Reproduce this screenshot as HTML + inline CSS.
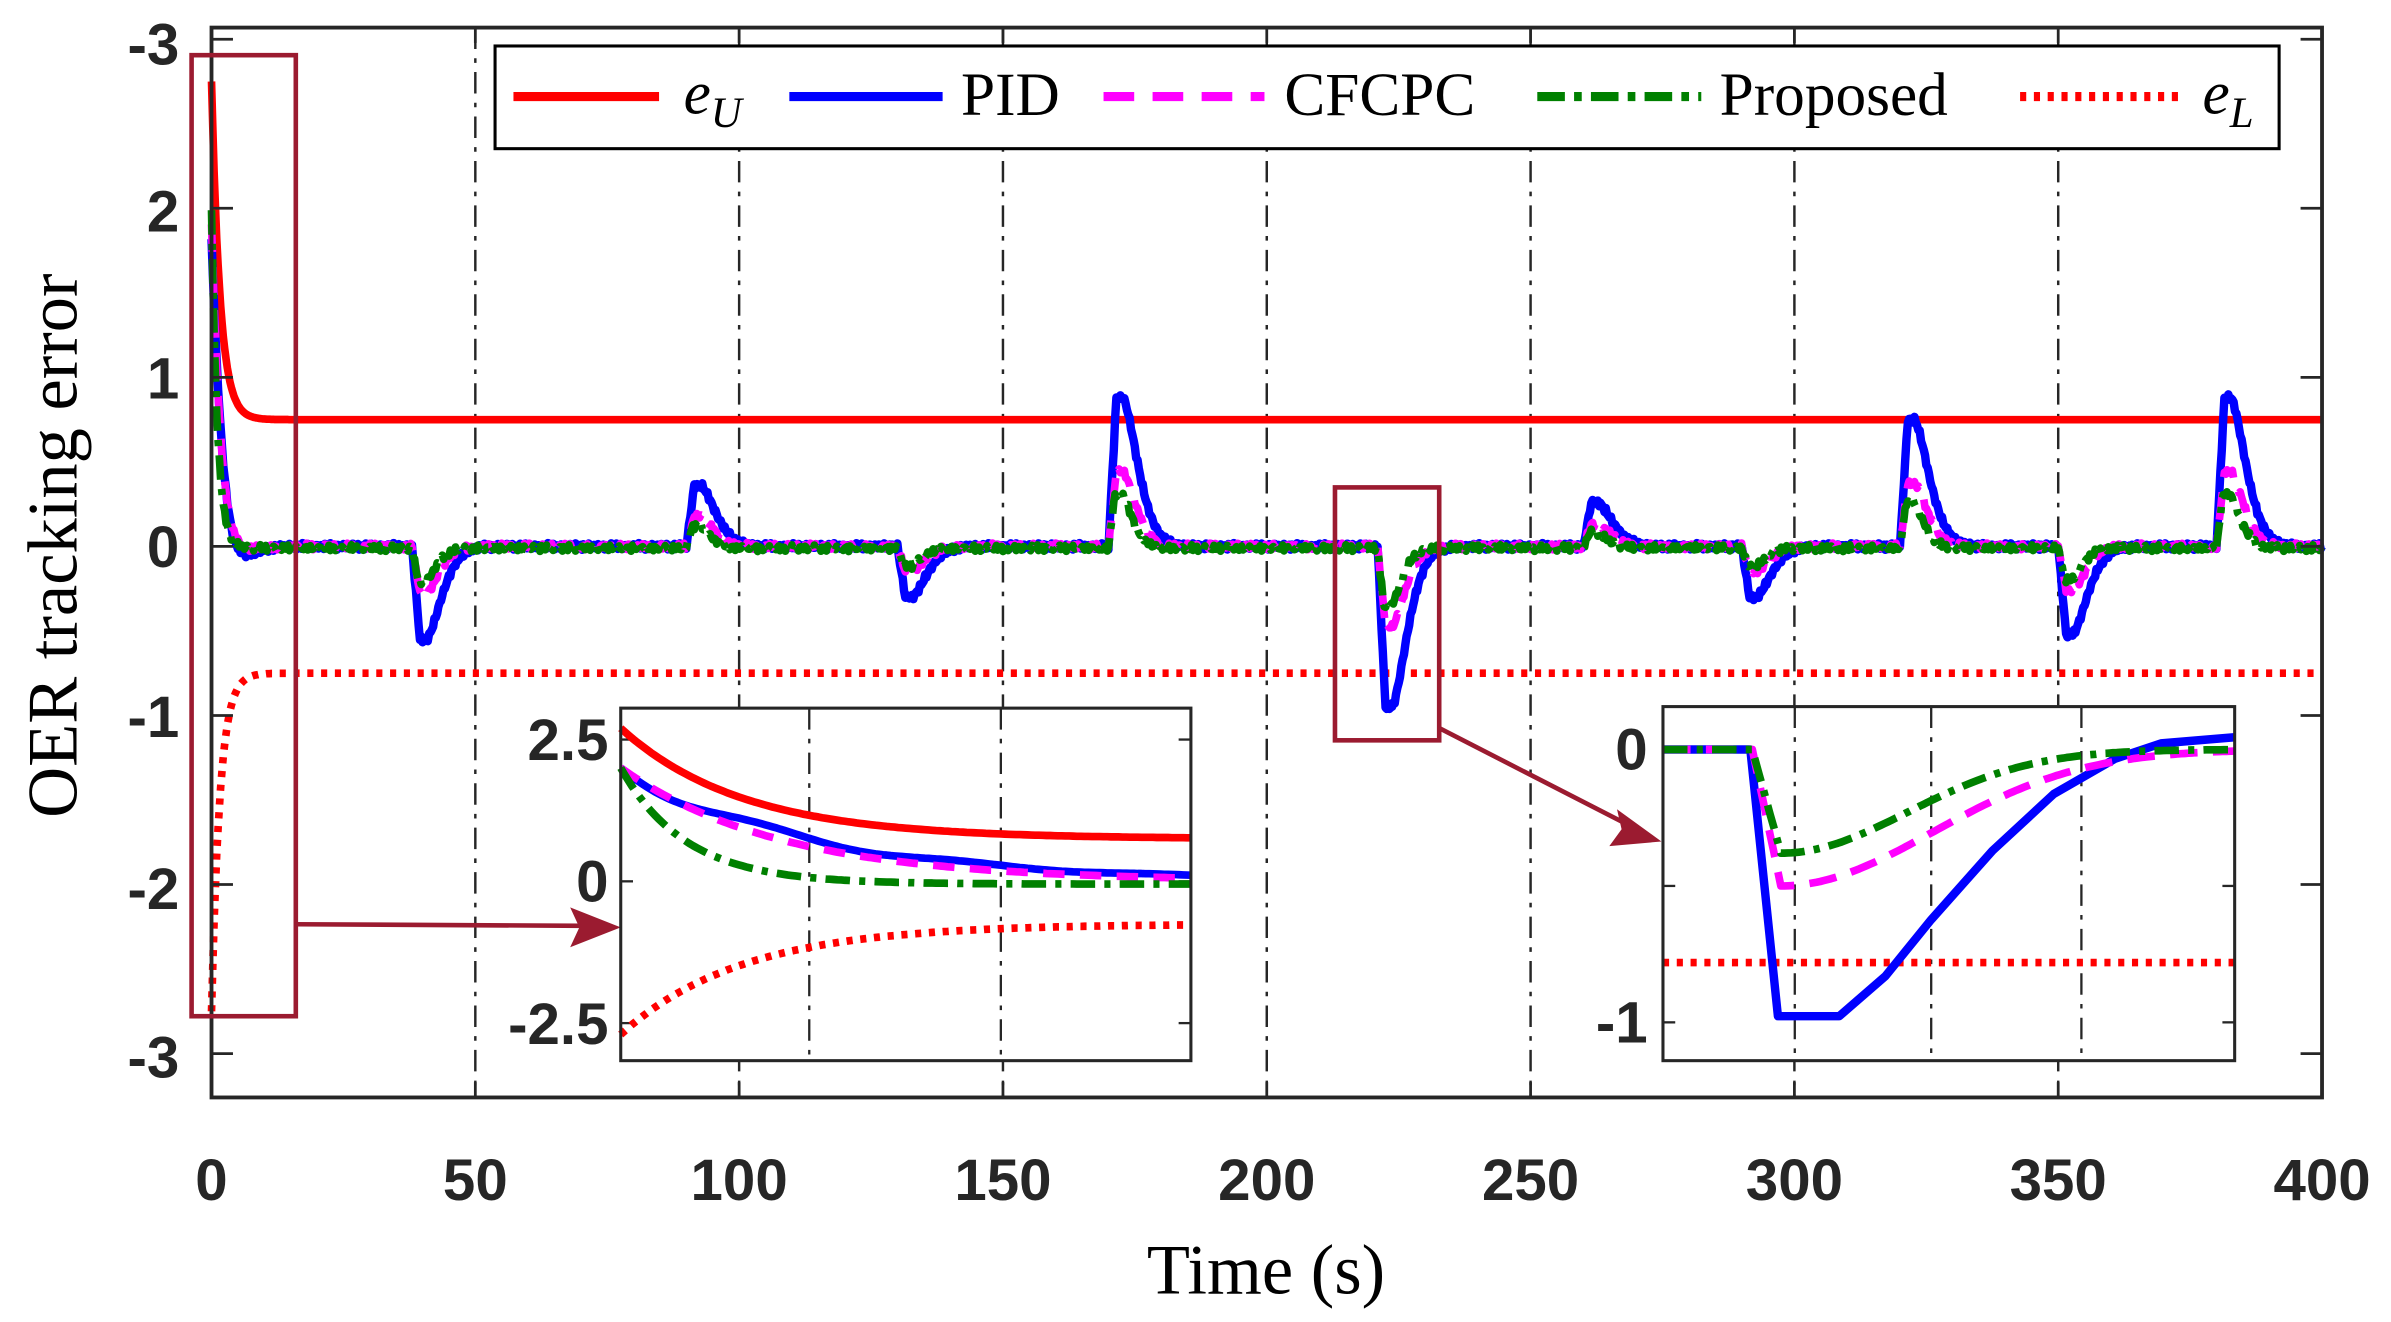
<!DOCTYPE html>
<html><head><meta charset="utf-8"><style>
html,body{margin:0;padding:0;background:#fff;}
svg{display:block;}
.tl{font-family:"Liberation Sans",sans-serif;font-weight:bold;font-size:38px;fill:#262626;}
.sf{font-family:"Liberation Serif",serif;fill:#000;}
</style></head><body>
<svg id="s" width="2391" height="1322" viewBox="0 0 1560 862.5" preserveAspectRatio="none" xmlns="http://www.w3.org/2000/svg">
<rect width="1560" height="862.5" fill="#fff"/>
<g id="grid" stroke="#262626" stroke-width="1.6" stroke-dasharray="14,6,3,6"></g>
<g id="series" fill="none" stroke-linejoin="round"></g>
<rect x="138" y="18" width="1377" height="698" fill="none" stroke="#262626" stroke-width="2.5"/>
<g id="ticks" stroke="#262626" stroke-width="1.8"></g>
<g class="tl" text-anchor="end">
<text x="117" y="42">-3</text><text x="117" y="151">2</text><text x="117" y="260">1</text><text x="117" y="370">0</text>
<text x="117" y="481">-1</text><text x="117" y="593">-2</text><text x="117" y="703">-3</text>
</g>
<g class="tl" text-anchor="middle" id="xl"></g>
<text class="sf" x="826" y="844" font-size="46" text-anchor="middle">Time (s)</text>
<text class="sf" font-size="46" text-anchor="middle" transform="translate(50,356) rotate(-90)">OER tracking error</text>
<rect x="125" y="36" width="68" height="627" fill="none" stroke="#9b1b30" stroke-width="3"/>
<rect x="871" y="318" width="68" height="165" fill="none" stroke="#9b1b30" stroke-width="3"/>
<line x1="193" y1="603" x2="380" y2="604" stroke="#9b1b30" stroke-width="3"/>
<polygon points="405,605 372,592 378,605 372,618" fill="#9b1b30"/>
<line x1="939" y1="475" x2="1060" y2="537" stroke="#9b1b30" stroke-width="3"/>
<polygon points="1084,549 1055,528 1058,541 1050,552" fill="#9b1b30"/>
<g id="in1"></g><g id="in2"></g>
<rect x="323" y="30" width="1164" height="67" fill="#fff" stroke="#000" stroke-width="2"/>
<line x1="335" y1="63" x2="430" y2="63" stroke="#f00" stroke-width="6"/>
<text class="sf" x="446" y="74" font-size="40" font-style="italic">e<tspan font-size="28" dy="9">U</tspan></text>
<line x1="515" y1="63" x2="615" y2="63" stroke="#00f" stroke-width="6"/>
<text class="sf" x="627" y="75" font-size="40">PID</text>
<line x1="720" y1="63" x2="825" y2="63" stroke="#f0f" stroke-width="6" stroke-dasharray="20,12"/>
<text class="sf" x="838" y="75" font-size="40">CFCPC</text>
<line x1="1003" y1="63" x2="1110" y2="63" stroke="#008000" stroke-width="6" stroke-dasharray="18,6,5,6"/>
<text class="sf" x="1122" y="75" font-size="40">Proposed</text>
<line x1="1318" y1="63" x2="1425" y2="63" stroke="#f00" stroke-width="6" stroke-dasharray="4,5"/>
<text class="sf" x="1437" y="74" font-size="40" font-style="italic">e<tspan font-size="28" dy="9">L</tspan></text>
</svg>
<script>
var NS="http://www.w3.org/2000/svg";
function el(p,t,a){var e=document.createElementNS(NS,t);for(var k in a)e.setAttribute(k,a[k]);p.appendChild(e);return e;}
var X=function(t){return 138+t*3.4425;}, Y=function(v){return 356.5-110.3*v;};
var g=document.getElementById('grid'),tk=document.getElementById('ticks'),xl=document.getElementById('xl');
for(var i=0;i<=8;i++){var x=X(i*50);
 if(i>0&&i<8)el(g,'line',{x1:x,y1:18,x2:x,y2:716});
 el(tk,'line',{x1:x,y1:716,x2:x,y2:706});el(tk,'line',{x1:x,y1:18,x2:x,y2:28});
 var t=el(xl,'text',{x:x,y:783});t.textContent=String(i*50);}
[3,2,1,0,-1,-2,-3].forEach(function(v){var y=Y(v);el(tk,'line',{x1:138,y1:y,x2:152,y2:y});el(tk,'line',{x1:1515,y1:y,x2:1501,y2:y});});
function eU(t){return 0.75+2*Math.exp(-t/1.6);}
var ev=[[38,-0.55],[90,0.36],[130,-0.3],[170,0.88],[221,-0.95],[260,0.26],[290,-0.3],[320,0.75],[350,-0.52],[380,0.88]];
function spike(t,A,w,r){var s=0;ev.forEach(function(e){var d=t-e[0];if(d<0)return;var a=e[1]*A;
 if(d<r)s+=a*d/r;else if(d<r+1.2)s+=a;else s+=a*Math.exp(-Math.pow((d-r-1.2)/w,1.6));});return s;}
function nz(t,k){return 0.012*Math.sin(t*7.3+k)+0.008*Math.sin(t*13.1+2*k);}
function pid(t){return 1.8*Math.exp(-t/2.2)*Math.cos(t*0.32)+spike(t,1,4,1.5)+nz(t,1);}
function cf(t){return 1.9*Math.exp(-t/1.8)*Math.cos(t*0.25)+spike(t,0.5,3.5,1.5)+nz(t,2);}
function pr(t){return 2.0*Math.exp(-t/1.1)+spike(t,0.36,3,1.2)+nz(t,3)-0.01;}
function path(f,xm,ym,t0,t1,dt){var d='';for(var t=t0;t<=t1+1e-9;t+=dt)d+=(d?'L':'M')+xm(t).toFixed(1)+','+ym(f(t)).toFixed(1);return d;}
var S=document.getElementById('series');
function draw(p,d,c,dash,w){var a={d:d,stroke:c,'stroke-width':w||5,fill:'none','stroke-linejoin':'round'};if(dash)a['stroke-dasharray']=dash;el(p,'path',a);}
draw(S,path(eU,X,Y,0,400,0.25),'#f00',null,5);
draw(S,path(function(t){return -eU(t);},X,Y,0,400,0.25),'#f00','4,5',5);
draw(S,path(pid,X,Y,0,400,0.25),'#00f',null,5.5);
draw(S,path(cf,X,Y,0,400,0.25),'#f0f','18,10',5);
draw(S,path(pr,X,Y,0,400,0.25),'#008000','16,6,4,6',5);
var I1=document.getElementById('in1');
el(I1,'rect',{x:405,y:462,width:372,height:230,fill:'#fff'});
var X1=function(t){return 405+t*372/15;},Y1=function(v){return 575-37*v;};
[528,653].forEach(function(x){el(I1,'line',{x1:x,y1:462,x2:x,y2:692,stroke:'#262626','stroke-width':1.5,'stroke-dasharray':'14,6,3,6'});});
[2.5,0,-2.5].forEach(function(v){var y=Y1(v);el(I1,'line',{x1:405,y1:y,x2:413,y2:y,stroke:'#262626','stroke-width':1.5});el(I1,'line',{x1:777,y1:y,x2:769,y2:y,stroke:'#262626','stroke-width':1.5});});
var e1=function(t){return 0.75+1.95*Math.exp(-t/3.2);};
draw(I1,path(e1,X1,Y1,0,15,0.1),'#f00',null,5);
draw(I1,path(function(t){return -e1(t);},X1,Y1,0,15,0.1),'#f00','4,5',5);
draw(I1,path(function(t){return 2*Math.exp(-t/5)-0.12*Math.sin(t*1.2)*Math.exp(-t/6);},X1,Y1,0,15,0.1),'#00f',null,5);
draw(I1,path(function(t){return 2*Math.exp(-t/4.2);},X1,Y1,0,15,0.1),'#f0f','14,10',5);
draw(I1,path(function(t){return 2*Math.exp(-t/1.7)-0.05*(1-Math.exp(-t/3));},X1,Y1,0,15,0.1),'#008000','16,6,4,6',5);
el(I1,'rect',{x:405,y:462,width:372,height:230,fill:'none',stroke:'#262626','stroke-width':2});
[['2.5',483],['0',575],['-2.5',668]].forEach(function(a){var t=el(I1,'text',{x:397,y:a[1]+13,'text-anchor':'end','class':'tl'});t.textContent=a[0];});
var I2=document.getElementById('in2');
el(I2,'rect',{x:1085,y:461,width:373,height:231,fill:'#fff'});
var X2=function(t){return 1085+(t-217)*373/16;},Y2=function(v){return 489-178*v;};
[1171,1260,1358].forEach(function(x){el(I2,'line',{x1:x,y1:461,x2:x,y2:692,stroke:'#262626','stroke-width':1.5,'stroke-dasharray':'14,6,3,6'});});
[0,-0.5,-1].forEach(function(v){var y=Y2(v);el(I2,'line',{x1:1085,y1:y,x2:1093,y2:y,stroke:'#262626','stroke-width':1.5});el(I2,'line',{x1:1458,y1:y,x2:1450,y2:y,stroke:'#262626','stroke-width':1.5});});
draw(I2,'M1085,628L1458,628','#f00','4,5',5);
function sp2(A,w){return function(t){var d=t-219.5;if(d<0)return 0;if(d<0.8)return -A*d/0.8;return -A*Math.exp(-Math.pow((d-0.8)/w,2));};}
draw(I2,'M1085,489L1142,489L1160,663L1200,663L1230,637L1260,600L1300,555L1340,518L1380,495L1410,485L1458,481','#00f',null,5.5);
draw(I2,path(sp2(0.5,6),X2,Y2,217,233,0.1),'#f0f','18,10',5);
draw(I2,path(sp2(0.38,5),X2,Y2,217,233,0.1),'#008000','16,6,4,6',5);
el(I2,'rect',{x:1085,y:461,width:373,height:231,fill:'none',stroke:'#262626','stroke-width':2});
[['0',489],['-1',667]].forEach(function(a){var t=el(I2,'text',{x:1075,y:a[1]+13,'text-anchor':'end','class':'tl'});t.textContent=a[0];});
</script>
</body></html>
